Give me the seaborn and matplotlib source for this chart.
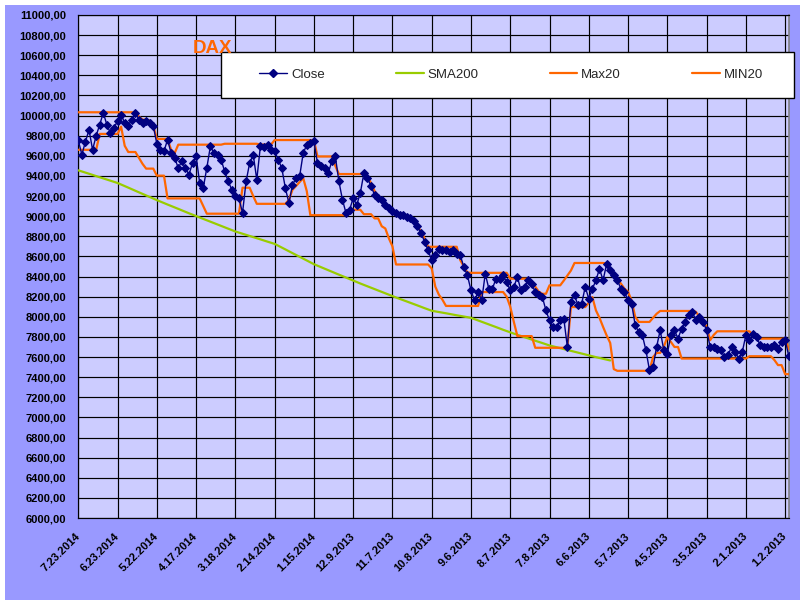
import numpy as np
import pandas as pd
import matplotlib
matplotlib.use("Agg")
import matplotlib.pyplot as plt
from matplotlib.patches import Rectangle
from matplotlib.lines import Line2D
from matplotlib.ticker import FuncFormatter, MultipleLocator
import seaborn as sns

# ---------------- data (one point = 2 trading days, newest first) ----------------
tick_labels = ["7.23.2014", "6.23.2014", "5.22.2014", "4.17.2014", "3.18.2014",
               "2.14.2014", "1.15.2014", "12.9.2013", "11.7.2013", "10.8.2013",
               "9.6.2013", "8.7.2013", "7.8.2013", "6.6.2013", "5.7.2013",
               "4.5.2013", "3.5.2013", "2.1.2013", "1.2.2013"]
tick_step = 11

close = [
    9753, 9612, 9740, 9860, 9660, 9800, 9910, 10027, 9910, 9827,
    9880, 9944, 10010, 9927, 9900, 9960, 10027, 9960, 9930, 9950,
    9927, 9900, 9720, 9660, 9645, 9761, 9628, 9579, 9480, 9546,
    9480, 9413, 9529, 9596, 9330, 9280, 9480, 9695, 9628, 9612,
    9562, 9446, 9347, 9263, 9197, 9180, 9032, 9346, 9529, 9612,
    9363, 9694, 9690, 9710, 9660, 9644, 9561, 9478, 9280, 9130,
    9312, 9379, 9396, 9627, 9710, 9727, 9744, 9528, 9495, 9478,
    9428, 9544, 9594, 9346, 9163, 9030, 9064, 9180, 9113, 9230,
    9428, 9379, 9296, 9213, 9180, 9163, 9113, 9080, 9047, 9030,
    9014, 9014, 8997, 8981, 8948, 8898, 8830, 8748, 8660, 8561,
    8611, 8677, 8660, 8661, 8644, 8661, 8627, 8611, 8495, 8412,
    8263, 8163, 8246, 8163, 8429, 8279, 8279, 8379, 8379, 8412,
    8346, 8263, 8296, 8396, 8263, 8296, 8362, 8329, 8246, 8213,
    8196, 8063, 7964, 7898, 7898, 7964, 7981, 7700, 8147, 8213,
    8113, 8130, 8296, 8180, 8279, 8362, 8478, 8362, 8527, 8461,
    8412, 8362, 8279, 8246, 8164, 8131, 7916, 7850, 7817, 7668,
    7469, 7502, 7701, 7866, 7668, 7635, 7817, 7866, 7784, 7883,
    7949, 8015, 8048, 7965, 7998, 7949, 7866, 7701, 7701, 7684,
    7668, 7602, 7618, 7701, 7651, 7585, 7651, 7817, 7767, 7833,
    7800, 7717, 7701, 7701, 7701, 7717, 7684, 7750, 7773, 7612,
]

sma200 = [
    9456, 9445, 9433, 9422, 9410, 9399, 9387, 9376, 9364, 9353,
    9341, 9330, 9315, 9299, 9284, 9268, 9253, 9237, 9222, 9206,
    9191, 9175, 9160, 9145, 9131, 9116, 9102, 9087, 9073, 9058,
    9044, 9029, 9015, 9000, 8986, 8972, 8959, 8945, 8931, 8917,
    8903, 8890, 8876, 8862, 8848, 8837, 8826, 8814, 8803, 8792,
    8781, 8770, 8758, 8747, 8736, 8725, 8707, 8688, 8670, 8651,
    8633, 8615, 8596, 8578, 8560, 8541, 8523, 8508, 8493, 8479,
    8464, 8449, 8434, 8419, 8405, 8390, 8375, 8360, 8346, 8331,
    8317, 8303, 8289, 8275, 8261, 8247, 8233, 8219, 8205, 8192,
    8179, 8165, 8152, 8139, 8126, 8113, 8099, 8086, 8073, 8060,
    8054, 8047, 8041, 8035, 8028, 8022, 8015, 8009, 8003, 7996,
    7990, 7977, 7964, 7950, 7937, 7924, 7911, 7898, 7884, 7871,
    7858, 7845, 7833, 7821, 7810, 7798, 7786, 7774, 7762, 7751,
    7739, 7727, 7715, 7706, 7697, 7688, 7679, 7670, 7661, 7652,
    7643, 7634, 7625, 7616, 7608, 7599, 7591, 7583, 7574, 7566,
]

# Max20 / MIN20 as (level, run length in points)
max20_levels = [10033, 10027, 9990, 9960, 9950, 9900, 9768, 9660, 9628, 9711, 9720, 9712, 9757, 9594, 9500, 9419,
                9430, 9400, 9330, 9250, 9200, 9170, 9120, 9090, 9060, 9040, 9020, 9015, 9000, 8985, 8950, 8900, 8850, 8780,
                8696, 8563, 8500, 8440, 8437, 8379, 8330, 8300, 8250, 8229, 8313, 8360, 8410, 8460, 8535,
                8530, 8470, 8420, 8370, 8330, 8280, 8250, 8160, 8000, 7949, 7990, 8030, 8058,
                8050, 8000, 7960, 7900, 7768, 7820, 7856, 7820, 7783, 7680]
max20_runs = [16, 1, 1, 2, 1, 1, 4, 1, 1, 13, 10, 4, 12, 5, 1, 7,
              1, 1, 1, 1, 1, 1, 1, 1, 1, 1, 1, 1, 1, 1, 1, 1, 1, 1,
              9, 1, 1, 1, 11, 6, 1, 1, 1, 2, 4, 1, 1, 1, 9,
              1, 1, 1, 1, 1, 1, 1, 1, 1, 4, 1, 1, 10,
              1, 1, 1, 1, 1, 1, 10, 1, 9, 1]

min20_levels = [9660, 9818, 9890, 9700, 9638, 9580, 9520, 9473, 9403, 9177, 9100, 9025, 9283, 9200, 9123,
                9163, 9263, 9300, 9340, 9379, 9250, 9010, 9064, 9020, 8978, 8900, 8878, 8780, 8700, 8520,
                8480, 8300, 8220, 8170, 8108, 8246, 8200, 8100, 7950, 7808, 7692, 8097, 8140, 8196, 8064,
                7990, 7900, 7815, 7740, 7480, 7463, 7600, 7641, 7700, 7800, 7750, 7700, 7585, 7608, 7570,
                7520, 7430]
min20_runs = [6, 6, 1, 1, 3, 1, 1, 3, 3, 10, 1, 10, 3, 1, 9,
              1, 1, 1, 1, 1, 1, 11, 4, 3, 2, 1, 1, 1, 1, 10,
              1, 1, 1, 1, 10, 7, 1, 1, 1, 5, 10, 5, 1, 1, 1,
              1, 1, 1, 1, 1, 10, 1, 2, 1, 1, 1, 2, 19, 7, 1,
              2, 2]

# ---------------- styling ----------------
sns.set_style("white")
plt.rcParams['font.family'] = ['Liberation Sans', 'DejaVu Sans']

n = len(close)
idx = np.arange(n)
max20 = np.repeat(max20_levels, max20_runs)
min20 = np.repeat(min20_levels, min20_runs)

df = pd.DataFrame({'idx': idx, 'Close': close, 'Max20': max20, 'MIN20': min20})
sma_df = pd.DataFrame({'idx': idx[:len(sma200)], 'SMA200': sma200})

C_CLOSE = '#000080'
C_SMA = '#99CC00'
C_ORANGE = '#FF6600'
MS = 4.3

W, H = 800, 600
fig = plt.figure(figsize=(8, 6), dpi=100, facecolor='#9999FF')
fig.patches.append(Rectangle((0, 0), 5 / W, 1, transform=fig.transFigure,
                             facecolor='white', edgecolor='none', zorder=0))
fig.patches.append(Rectangle((0, 1 - 5 / H), 1, 5 / H, transform=fig.transFigure,
                             facecolor='white', edgecolor='none', zorder=0))

left_px, right_px, top_px, bottom_px = 78.3, 788.7, 15.0, 518.0
ax = fig.add_axes([left_px / W, 1 - bottom_px / H, (right_px - left_px) / W, (bottom_px - top_px) / H])
ax.set_facecolor('#CCCCFF')

sns.lineplot(data=sma_df, x='idx', y='SMA200', ax=ax, color=C_SMA, lw=1.6, zorder=3, legend=False)
sns.lineplot(data=df, x='idx', y='Max20', ax=ax, color=C_ORANGE, lw=1.6, zorder=3, legend=False)
sns.lineplot(data=df, x='idx', y='MIN20', ax=ax, color=C_ORANGE, lw=1.6, zorder=3, legend=False)
sns.lineplot(data=df, x='idx', y='Close', ax=ax, color=C_CLOSE, lw=1.0, marker='D', markersize=MS,
             markeredgecolor=C_CLOSE, markerfacecolor=C_CLOSE, zorder=5, legend=False)

ax.set_xlim(0, n - 1)
ax.set_ylim(6000, 11000)
ax.yaxis.set_major_locator(MultipleLocator(200))
ax.yaxis.set_major_formatter(FuncFormatter(lambda v, p: f"{v:.2f}".replace('.', ',')))
ticks = list(range(0, n, tick_step))[:len(tick_labels)]
ax.set_xticks(ticks)
ax.set_xticklabels(tick_labels)
ax.set_xlabel('')
ax.set_ylabel('')

ax.grid(True, color='black', lw=0.85)
ax.set_axisbelow(True)
for s in ['left', 'bottom', 'top']:
    ax.spines[s].set_color('black')
    ax.spines[s].set_linewidth(0.85)
ax.spines['right'].set_color('#808080')
ax.spines['right'].set_linewidth(1.2)

ax.tick_params(axis='both', direction='out', length=3, width=0.85, color='black',
               labelsize=8, labelcolor='black')
ax.tick_params(axis='y', pad=6)
ax.tick_params(axis='x', pad=9)
for lab in ax.get_yticklabels():
    lab.set_fontweight('bold')
for lab in ax.get_xticklabels():
    lab.set_fontweight('bold')
    lab.set_rotation(45)
    lab.set_ha('right')
    lab.set_va('center')
    lab.set_rotation_mode('anchor')

# title
ax.text((193 - left_px) / (right_px - left_px), (bottom_px - 53) / (bottom_px - top_px), 'DAX',
        transform=ax.transAxes, color=C_ORANGE, fontsize=13.5, fontweight='bold',
        ha='left', va='baseline', zorder=12)

# legend box
def ax_x(px):
    return (px - left_px) / (right_px - left_px)

def ax_y(py):
    return (bottom_px - py) / (bottom_px - top_px)

rect = Rectangle((ax_x(220.6), ax_y(97.7)), ax_x(793.6) - ax_x(220.6), ax_y(51.7) - ax_y(97.7),
                 transform=ax.transAxes, facecolor='white', edgecolor='black', lw=1.0,
                 zorder=10, clip_on=False)
ax.add_patch(rect)

handles = [
    Line2D([], [], color=C_CLOSE, lw=1.0, marker='D', markersize=MS),
    Line2D([], [], color=C_SMA, lw=1.6),
    Line2D([], [], color=C_ORANGE, lw=1.6),
    Line2D([], [], color=C_ORANGE, lw=1.6),
]
labels = ['Close', 'SMA200', 'Max20', 'MIN20']
leg = ax.legend(handles, labels, loc='center', ncol=4, mode='expand',
                bbox_to_anchor=(ax_x(259.4), ax_y(74.7), ax_x(763) - ax_x(259.4), 0),
                frameon=False, fontsize=9.5, handlelength=2.1, handletextpad=0.3,
                borderpad=0, borderaxespad=0)
leg.set_zorder(11)

fig.savefig('out.png', dpi=100, facecolor=fig.get_facecolor())
